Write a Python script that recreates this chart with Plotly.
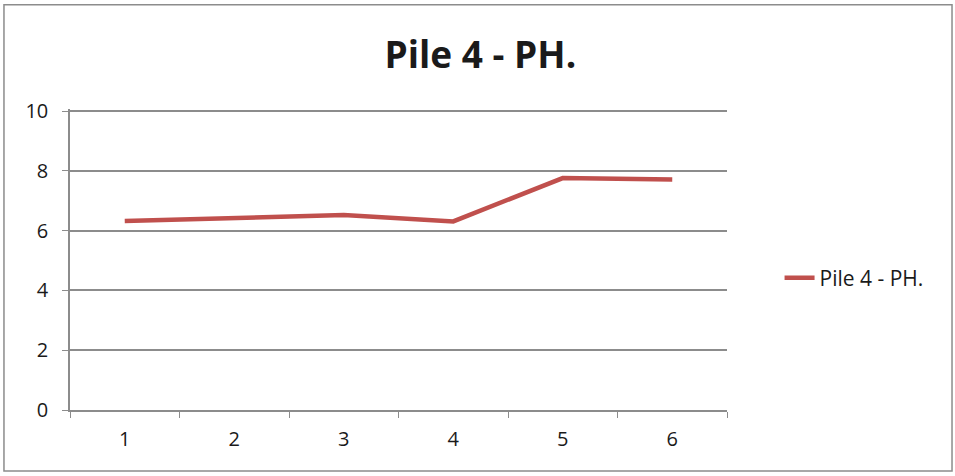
import plotly.graph_objects as go

# pH readings for pile 4 across six samples
samples = ["1", "2", "3", "4", "5", "6"]
ph_values = [6.32, 6.42, 6.52, 6.31, 7.76, 7.71]
y_ticks = [0, 2, 4, 6, 8, 10]
series_name = "Pile 4 - PH."

FONT = "Open Sans, Liberation Sans, Arial, sans-serif"
GRID = "#8c8c8c"

fig = go.Figure()
fig.add_trace(go.Scatter(
    x=samples,
    y=ph_values,
    mode="lines",
    name=series_name,
    line=dict(color="#C0504D", width=4.5),
))

fig.update_layout(
    width=955,
    height=476,
    margin=dict(l=70, r=228, t=109, b=66),
    paper_bgcolor="white",
    plot_bgcolor="white",
    font=dict(family=FONT, color="#1a1a1a", size=20),
    title=dict(
        text="<b>Pile 4 - PH.</b>",
        x=0.503, xanchor="center",
        y=0.884, yanchor="middle",
        font=dict(family=FONT, size=37, color="#1a1a1a"),
    ),
    showlegend=True,
    legend=dict(
        x=1.08, xanchor="left",
        y=0.438, yanchor="middle",
        font=dict(family=FONT, size=21, color="#1a1a1a"),
        bgcolor="rgba(0,0,0,0)",
    ),
    xaxis=dict(
        type="category",
        range=[-0.5, 5.5],
        tickson="boundaries",
        ticks="outside",
        ticklen=6,
        tickcolor=GRID,
        showline=True,
        linecolor=GRID,
        linewidth=1.5,
        showgrid=False,
        zeroline=False,
        ticklabelstandoff=10,
    ),
    yaxis=dict(
        range=[0, 10.07],
        tickvals=y_ticks,
        ticks="outside",
        ticklen=6,
        tickcolor=GRID,
        showline=True,
        linecolor=GRID,
        linewidth=1.5,
        showgrid=True,
        gridcolor=GRID,
        gridwidth=1.5,
        zeroline=False,
        ticklabelstandoff=10,
    ),
    shapes=[dict(
        type="rect",
        xref="paper", yref="paper",
        x0=-0.1005, x1=1.3425,
        y0=-0.2025, y1=1.346,
        line=dict(color="#8c8c8c", width=1.5),
        fillcolor="rgba(0,0,0,0)",
        layer="below",
    )],
)

fig.write_html("out.html")
